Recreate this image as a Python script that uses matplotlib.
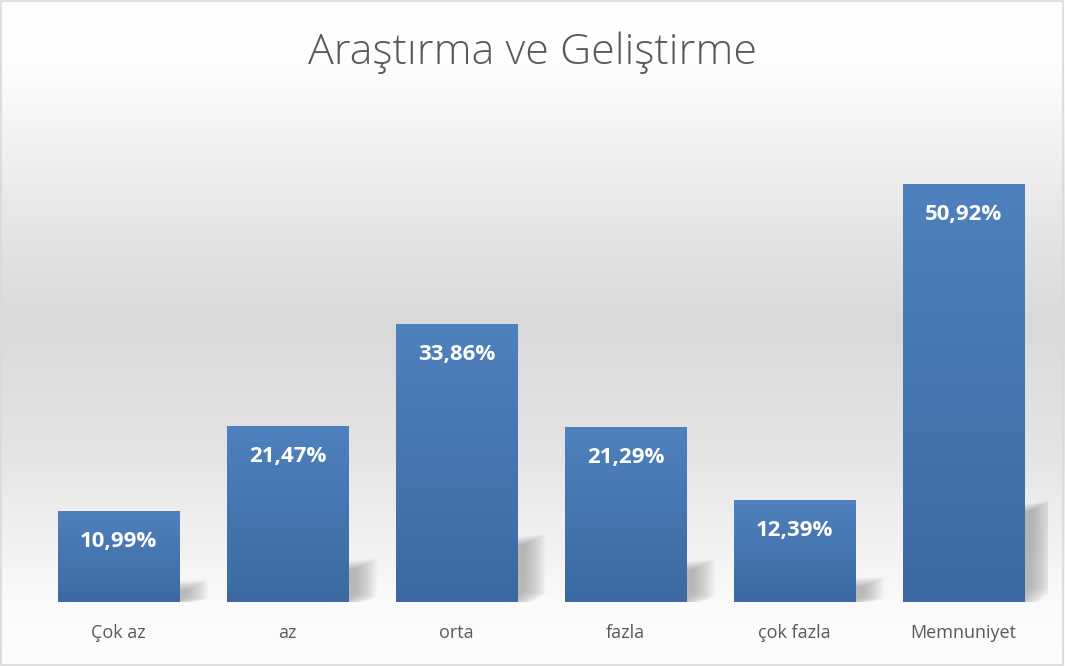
import numpy as np
import matplotlib
matplotlib.use("Agg")
import matplotlib.pyplot as plt
from matplotlib.colors import LinearSegmentedColormap
from matplotlib.patches import Polygon, Rectangle

categories = ["Çok az", "az", "orta", "fazla", "çok fazla", "Memnuniyet"]
values = [10.99, 21.47, 33.86, 21.29, 12.39, 50.92]
labels = ["10,99%", "21,47%", "33,86%", "21,29%", "12,39%", "50,92%"]
title = "Araştırma ve Geliştirme"

W, H = 1065, 666
fig = plt.figure(figsize=(W / 100, H / 100), dpi=100)

# background gradient
bg = fig.add_axes([0, 0, 1, 1], zorder=0)
ys = np.arange(H)
stops_y = [0, 60, 200, 320, 450, 600, 666]
stops_v = [255, 254, 233, 217, 228, 250, 253]
col = np.interp(ys, stops_y, stops_v) / 255.0
img = np.repeat(col[:, None], 2, axis=1)
img = np.dstack([img, img, img])
bg.imshow(img, extent=(0, 1, 0, 1), aspect="auto", origin="upper")
bg.add_patch(Rectangle((0.0005, 0.001), 0.998, 0.997, fill=False, edgecolor="#d9d9d9",
                       linewidth=1.2, transform=bg.transAxes))
bg.set_xlim(0, 1)
bg.set_ylim(0, 1)
bg.axis("off")

# plot axes: left 34px, right 1048px, bottom at y=602, scale 8.19 px/unit
x_left, x_right = 34, 1048
y_base = 602
ymax = 60
px_per = 8.19
ax_h = ymax * px_per
ax = fig.add_axes([x_left / W, (H - y_base) / H, (x_right - x_left) / W, ax_h / H], zorder=1)
ax.patch.set_alpha(0)

x = np.arange(len(categories))
width = 0.716
cmap = LinearSegmentedColormap.from_list("bar", ["#3c69a2", "#4f81be"])
grad = np.linspace(0, 1, 256)[::-1].reshape(-1, 1)  # top = 1

bars = ax.bar(x, values, width=width, color="none", edgecolor="none", zorder=3)
for b, lab in zip(bars, labels):
    x0 = b.get_x()
    x1 = x0 + b.get_width()
    h = b.get_height()
    # shadow
    sw = 0.17
    for k in range(12):
        e = k * 0.011
        poly = Polygon([(x1 - 0.05, 0), (x1 - 0.05, h * 0.23 - e * 10),
                        (x1 + sw - e, h * 0.245 - e * 10), (x1 + sw - e, h * 0.03 + e * 3),
                        (x1 + 0.09 - e, 0)],
                       closed=True, facecolor="#808080", edgecolor="none", alpha=0.055, zorder=2)
        ax.add_patch(poly)
    ax.imshow(grad, cmap=cmap, extent=(x0, x1, 0, h), aspect="auto", zorder=3,
              vmin=0, vmax=1, interpolation="bilinear")
    ax.text(b.get_x() + b.get_width() / 2, h - 30 / px_per, lab, ha="center", va="center",
            color="white", fontsize=16, fontweight="bold", family="Open Sans", zorder=4)

ax.set_xlim(-0.5, len(categories) - 0.5)
ax.set_ylim(0, ymax)
ax.set_xticks(x)
ax.set_xticklabels(categories, fontsize=13, color="#595959", family="Open Sans")
ax.tick_params(axis="x", length=0, pad=16)
ax.set_yticks([])
for s in ax.spines.values():
    s.set_visible(False)

fig.text(0.5, (H - 53) / H, title, ha="center", va="center", fontsize=31,
         color="#595959", family="Open Sans", fontweight="light")

fig.savefig("out.png", dpi=100)
